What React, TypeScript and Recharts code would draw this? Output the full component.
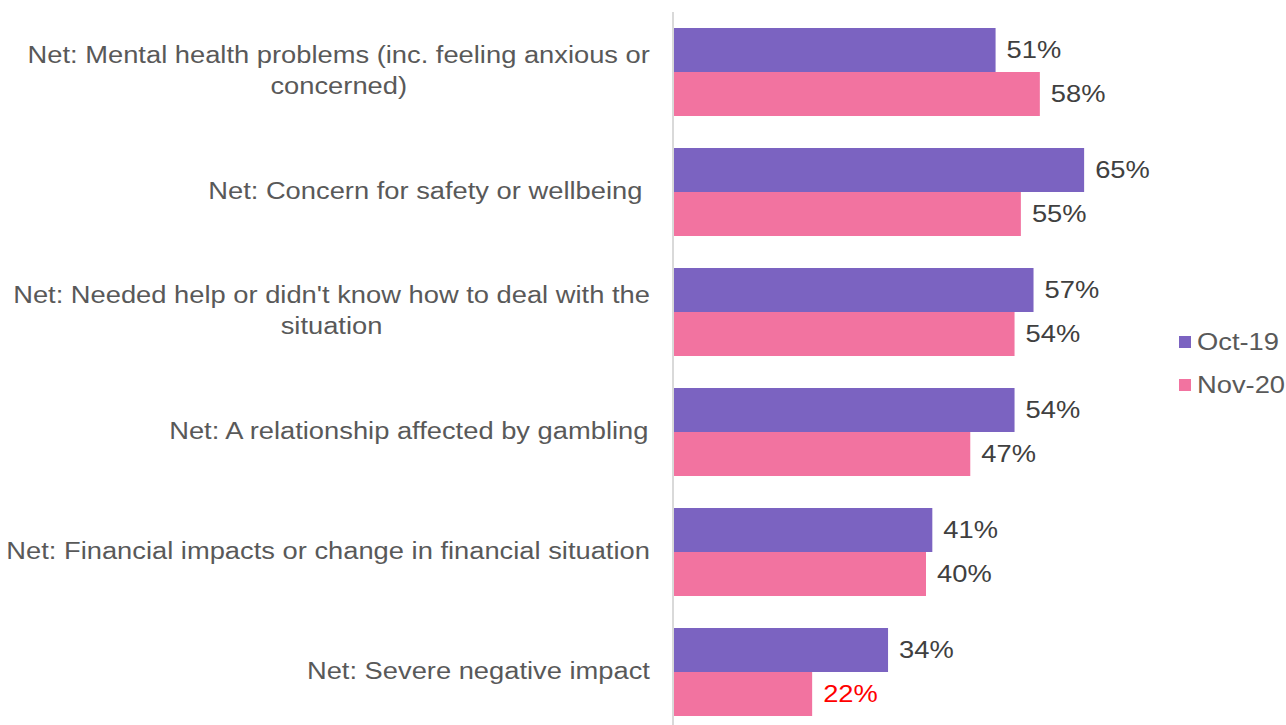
import React from "react";
import { BarChart, Bar, XAxis, YAxis, Legend, LabelList } from "recharts";

const categories = [
  "Net: Mental health problems (inc. feeling anxious or\nconcerned)",
  "Net: Concern for safety or wellbeing ",
  "Net: Needed help or didn't know how to deal with the\nsituation",
  "Net: A relationship affected by gambling",
  "Net: Financial impacts or change in financial situation",
  "Net: Severe negative impact",
];
const oct19 = [51, 65, 57, 54, 41, 34];
const nov20 = [58, 55, 54, 47, 40, 22];
// Nov-20 values flagged as significant change (shown in red)
const nov20Significant = [false, false, false, false, false, true];
const seriesOrder = ["Oct-19", "Nov-20"];

const data = categories.map((name, i) => ({
  name,
  oct19: oct19[i],
  nov20: nov20[i],
}));

const FONT = '"Liberation Sans", Arial, sans-serif';
const FS = 24.5;
const SX = 1.115; // text in the source is slightly stretched horizontally
const LINE_H = 31;

let ctx: CanvasRenderingContext2D | null = null;
function measure(s: string) {
  if (!ctx) ctx = document.createElement("canvas").getContext("2d");
  if (!ctx) return s.length * FS * 0.5 * SX;
  ctx.font = `${FS}px ${FONT}`;
  return ctx.measureText(s).width * SX;
}

function CategoryTick(props: any) {
  const { x, y, payload } = props;
  const lines = String(payload.value).split("\n");
  const maxW = Math.max(...lines.map(measure));
  const cx = x - maxW / 2;
  const y0 = y - ((lines.length - 1) * LINE_H) / 2 - 1.5;
  return (
    <g>
      {lines.map((l, i) => (
        <text
          key={i}
          transform={`translate(${cx},${y0 + i * LINE_H}) scale(${SX},1)`}
          textAnchor="middle"
          dominantBaseline="central"
          fontSize={FS}
          fontFamily={FONT}
          fill="#595959"
          style={{ whiteSpace: "pre" }}
        >
          {l}
        </text>
      ))}
    </g>
  );
}

function valueLabel(flags?: boolean[]) {
  return (props: any) => {
    const { x, y, width, height, value, index } = props;
    const red = flags && flags[index];
    return (
      <text
        transform={`translate(${x + width + 11},${y + height / 2}) scale(${SX},1)`}
        dominantBaseline="central"
        fontSize={FS}
        fontFamily={FONT}
        fill={red ? "#FF0000" : "#404040"}
      >
        {value}%
      </text>
    );
  };
}

function LegendBox(props: any) {
  const items = [...(props.payload || [])].sort(
    (a: any, b: any) => seriesOrder.indexOf(a.value) - seriesOrder.indexOf(b.value)
  );
  return (
    <div style={{ fontFamily: FONT }}>
      {items.map((it: any) => (
        <div
          key={it.value}
          style={{ display: "flex", alignItems: "center", height: 43 }}
        >
          <span
            style={{
              width: 12,
              height: 12,
              background: it.color,
              display: "inline-block",
              marginRight: 6,
            }}
          />
          <span
            style={{
              fontSize: FS,
              color: "#595959",
              display: "inline-block",
              transform: `scaleX(${SX})`,
              transformOrigin: "left center",
              whiteSpace: "nowrap",
            }}
          >
            {it.value}
          </span>
        </div>
      ))}
    </div>
  );
}

export default function App() {
  return (
    <div
      style={{
        position: "fixed",
        left: 0,
        top: 0,
        width: 1286,
        height: 725,
        overflow: "hidden",
        background: "#fff",
        fontFamily: FONT,
      }}
    >
      <BarChart
        width={1286}
        height={740}
        data={data}
        layout="vertical"
        margin={{ top: 12, right: 107, bottom: 8, left: 0 }}
        barCategoryGap={16}
        barGap={0}
      >
        <XAxis type="number" domain={[0, 80]} hide />
        <YAxis
          type="category"
          dataKey="name"
          width={673}
          axisLine={{ stroke: "#D9D9D9", strokeWidth: 2 }}
          tickLine={false}
          tickSize={0}
          tickMargin={23}
          interval={0}
          tick={<CategoryTick />}
        />
        <Legend
          layout="vertical"
          align="center"
          verticalAlign="middle"
          wrapperStyle={{ left: 1179, top: 320, width: 107, height: 86 }}
          content={<LegendBox />}
        />
        <Bar
          dataKey="oct19"
          name="Oct-19"
          fill="#7B63C1"
          isAnimationActive={false}
        >
          <LabelList dataKey="oct19" content={valueLabel()} />
        </Bar>
        <Bar
          dataKey="nov20"
          name="Nov-20"
          fill="#F273A0"
          isAnimationActive={false}
        >
          <LabelList dataKey="nov20" content={valueLabel(nov20Significant)} />
        </Bar>
      </BarChart>
    </div>
  );
}
